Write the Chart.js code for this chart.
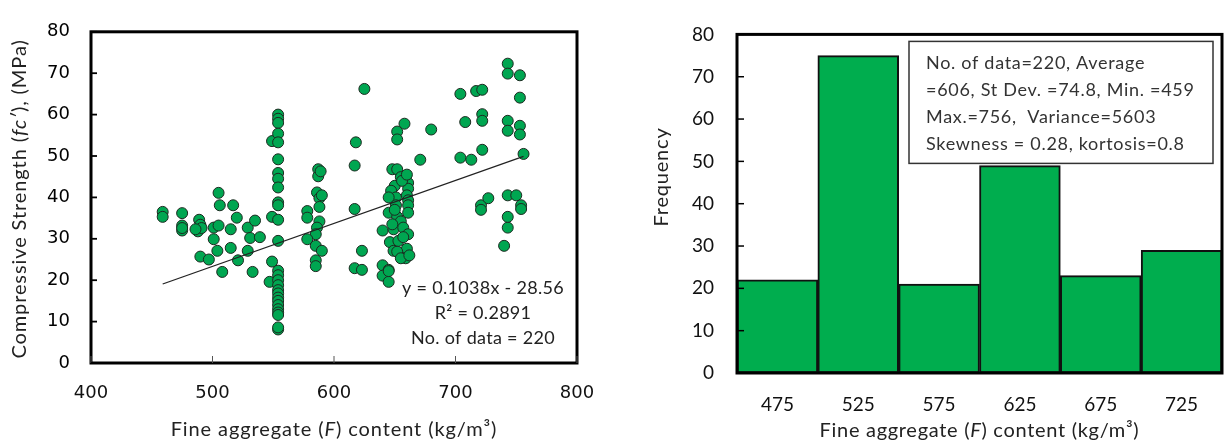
<!DOCTYPE html>
<html>
<head>
<meta charset="utf-8">
<script src="https://cdn.jsdelivr.net/npm/chart.js@4.4.1/dist/chart.umd.min.js"></script>
<style>
  html, body { margin: 0; padding: 0; background: #fff; }
  #wrap { position: relative; width: 1227px; height: 443px; overflow: hidden; }
  canvas { position: absolute; top: 0; }
  #scatterChart { left: 0; }
  #histChart { left: 620px; }
</style>
</head>
<body>
<div id="wrap">
  <canvas id="scatterChart" width="620" height="443"></canvas>
  <canvas id="histChart" width="607" height="443"></canvas>
</div>
<script>
// --- Fine aggregate content (kg/m3) vs compressive strength (MPa) ---
const fineContent = [
  459, 459, 475, 475, 475, 475, 489, 490, 488, 491, 486, 501, 505, 505, 506, 517,
  520, 515, 501, 504, 515, 529, 535, 531, 539, 529, 490, 497, 521, 508, 533,
  549, 554, 554, 549, 547, 549,
  554, 554, 554, 554, 554, 554, 554, 554, 554, 554, 554, 554, 554, 554, 554, 554,
  554, 554, 554, 554, 554, 554, 554, 554, 554,
  578, 578, 586, 588, 588, 590, 588, 586, 585, 578, 585, 590, 585, 585, 587, 587, 589,
  625, 618, 617, 617, 623, 617, 623,
  640, 645, 640, 645, 645, 658, 652, 652, 671, 680,
  648, 652, 655, 661, 650, 661, 647, 660, 651, 651, 661, 661, 645, 652, 661, 655,
  640, 649, 657, 661, 646, 660, 649, 652, 659, 655, 653, 657, 648, 650, 656, 660, 645, 662,
  704, 717, 722, 708, 722, 722, 704, 713, 722, 743, 743, 753, 753, 743, 743, 753,
  753, 756, 721, 727, 721, 743, 750, 754, 754, 740, 743, 743
];
const compStrength = [
  36.5, 35.3, 36.2, 33.2, 32.0, 32.6, 34.6, 33.4, 31.8, 32.6, 32.3, 32.7, 33.2, 41.1, 38.1, 38.1,
  35.1, 32.3, 29.9, 27.1, 27.8, 32.7, 34.4, 30.2, 30.4, 27.1, 25.7, 25.0, 24.8, 22.0, 22.0,
  35.3, 34.6, 29.5, 24.5, 19.6, 53.6,
  60.0, 59.0, 58.0, 55.4, 53.3, 49.2, 45.9, 44.5, 42.4, 38.8, 38.1, 22.3, 21.2, 20.0, 18.8, 17.6,
  16.8, 15.8, 15.0, 14.0, 13.0, 12.2, 11.6, 8.1, 8.6,
  36.7, 35.1, 41.2, 39.8, 37.7, 40.5, 34.2, 32.7, 31.1, 29.9, 28.3, 27.1, 24.8, 23.4, 46.8, 45.1, 46.3,
  66.2, 53.3, 47.7, 37.2, 27.1, 22.9, 22.5,
  23.6, 22.5, 21.1, 19.6, 22.2, 57.8, 55.9, 54.0, 49.1, 56.4,
  46.8, 46.8, 44.9, 43.5, 42.8, 42.1, 41.6, 40.5, 40.0, 38.1, 39.3, 38.1, 36.3, 35.3, 36.3, 34.2,
  32.0, 32.3, 32.7, 31.1, 29.2, 27.6, 27.1, 26.9, 25.3, 25.3, 29.5, 30.4, 33.5, 37.0, 44.0, 45.5, 40.0, 26.0,
  65.0, 65.7, 66.0, 58.2, 60.1, 58.5, 49.6, 49.1, 51.5, 72.3, 69.9, 69.5, 64.1, 58.5, 56.1, 57.3,
  55.2, 50.5, 38.1, 39.8, 37.0, 40.5, 40.5, 38.1, 37.2, 28.3, 32.7, 35.3
];

// linear trend y = a*x + b over the range of the data
const trendSlope = 0.1038;
const trendIntercept = -28.56;
const trendRange = [459, 756];
const dataCount = 220;
const rSquared = 0.2891;

// --- histogram of fine aggregate content ---
const binLabels = ['475', '525', '575', '625', '675', '725'];
const binCounts = [22, 75, 21, 49, 23, 29];
const statLines = [
  'No. of data=220, Average',
  '=606, St Dev. =74.8, Min. =459',
  'Max.=756,  Variance=5603',
  'Skewness = 0.28, kortosis=0.8'
];

const CAL = 'Lato, "Open Sans", sans-serif';
const TXT = '#222';

// writes a line made of several font runs, centred on (cx, cy)
function drawRuns(ctx, runs, cx, cy, angle, spacing) {
  ctx.save();
  ctx.translate(cx, cy);
  ctx.rotate(angle || 0);
  ctx.textBaseline = 'middle';
  ctx.textAlign = 'left';
  ctx.fillStyle = TXT;
  ctx.letterSpacing = (spacing || 0) + 'px';
  let total = 0;
  runs.forEach(r => { ctx.font = r.font; total += ctx.measureText(r.text).width; });
  let x = -total / 2;
  runs.forEach(r => {
    ctx.font = r.font;
    ctx.fillText(r.text, x, 0);
    x += ctx.measureText(r.text).width;
  });
  ctx.restore();
}

// thick box around the plot area
const boxFrame = {
  id: 'boxFrame',
  afterDraw(chart, args, opts) {
    const { ctx, chartArea: a } = chart;
    ctx.save();
    ctx.strokeStyle = '#000';
    ctx.lineWidth = opts.width;
    ctx.strokeRect(a.left, a.top, a.right - a.left, a.bottom - a.top);
    ctx.restore();
  }
};

// small tick marks pointing into the plot area
const innerTicks = {
  id: 'innerTicks',
  afterDraw(chart, args, opts) {
    const { ctx, chartArea: a } = chart;
    Object.keys(opts.axes).forEach(id => {
      const s = chart.scales[id];
      const { len, width, color } = opts.axes[id];
      ctx.save();
      ctx.strokeStyle = color;
      ctx.lineWidth = width;
      s.ticks.forEach(t => {
        const p = s.getPixelForValue(t.value);
        ctx.beginPath();
        if (s.isHorizontal()) { ctx.moveTo(p, a.bottom); ctx.lineTo(p, a.bottom - len); }
        else { ctx.moveTo(a.left, p); ctx.lineTo(a.left + len, p); }
        ctx.stroke();
      });
      ctx.restore();
    });
  }
};

// axis titles and notes
const notes = {
  id: 'notes',
  afterDraw(chart, args, opts) {
    opts.draw(chart.ctx, chart.chartArea, chart);
  }
};

const titleFont = '20px ' + CAL;
const fineTitle = [
  { text: 'Fine aggregate (', font: titleFont },
  { text: 'F', font: 'italic ' + titleFont },
  { text: ') content (kg/m³)', font: titleFont }
];

// --- Scatter ---
const points = fineContent.map((x, i) => ({ x, y: compStrength[i] }));
const trendPoints = trendRange.map(x => ({ x, y: trendSlope * x + trendIntercept }));

new Chart(document.getElementById('scatterChart'), {
  type: 'scatter',
  data: {
    datasets: [
      {
        type: 'line',
        data: trendPoints,
        borderColor: '#222',
        borderWidth: 1.3,
        pointRadius: 0,
        order: 0
      },
      {
        data: points,
        backgroundColor: '#00a651',
        borderColor: '#1c2a20',
        borderWidth: 1,
        pointRadius: 5.5,
        order: 1
      }
    ]
  },
  options: {
    responsive: false,
    animation: false,
    events: [],
    layout: { padding: { top: 21, right: 43, left: 0, bottom: 0 } },
    plugins: {
      legend: { display: false },
      tooltip: { enabled: false },
      boxFrame: { width: 3 },
      innerTicks: {
        axes: {
          x: { len: 7, width: 1, color: '#555' },
          y: { len: 6, width: 1.8, color: '#000' }
        }
      },
      notes: {
        draw(ctx, a) {
          drawRuns(ctx, fineTitle, (a.left + a.right) / 2, 430, 0, 0.9);
          drawRuns(ctx, [
            { text: 'Compressive Strength (', font: titleFont },
            { text: 'fc′', font: 'italic ' + titleFont },
            { text: '), (MPa)', font: titleFont }
          ], 20, 199, -Math.PI / 2, 0.9);
          const f = '18px ' + CAL;
          const cx = a.right - 94;
          drawRuns(ctx, [{ text: 'y = ' + trendSlope + 'x - ' + Math.abs(trendIntercept), font: f }], cx, a.bottom - 75, 0, 0.3);
          drawRuns(ctx, [{ text: 'R² = ' + rSquared, font: f }], cx, a.bottom - 50, 0, 0.3);
          drawRuns(ctx, [{ text: 'No. of data = ' + dataCount, font: f }], cx, a.bottom - 25, 0, 0.3);
        }
      }
    },
    scales: {
      x: {
        type: 'linear', min: 400, max: 800,
        ticks: { stepSize: 100, padding: 20, color: '#111', font: { family: 'DejaVu Sans', size: 18 } },
        grid: { display: false, drawTicks: false },
        border: { display: false },
        afterFit: s => { s.height = 80; }
      },
      y: {
        min: 0, max: 80,
        ticks: { stepSize: 10, padding: 21, color: '#000', font: { family: 'DejaVu Sans', size: 18 } },
        grid: { display: false, drawTicks: false },
        border: { display: false },
        afterFit: s => { s.width = 91; }
      }
    }
  },
  plugins: [boxFrame, innerTicks, notes]
});

// --- Histogram ---
new Chart(document.getElementById('histChart'), {
  type: 'bar',
  data: {
    labels: binLabels,
    datasets: [{
      data: binCounts,
      backgroundColor: '#00ad4e',
      borderColor: '#111',
      borderWidth: 2,
      borderSkipped: false,
      barPercentage: 1,
      categoryPercentage: 1
    }]
  },
  options: {
    responsive: false,
    animation: false,
    events: [],
    layout: { padding: { top: 21, right: 5, left: 0, bottom: 0 } },
    plugins: {
      legend: { display: false },
      tooltip: { enabled: false },
      boxFrame: { width: 3 },
      innerTicks: { axes: { y: { len: 7, width: 1.5, color: '#000' } } },
      notes: {
        draw(ctx, a) {
          drawRuns(ctx, fineTitle, (a.left + a.right) / 2, 431, 0, 0.7);
          drawRuns(ctx, [{ text: 'Frequency', font: titleFont }], 42, 177, -Math.PI / 2, 0.8);

          // summary statistics box
          const bx = a.left + 172, by = a.top + 7, bw = 304, bh = 122;
          ctx.save();
          ctx.fillStyle = '#fff';
          ctx.fillRect(bx, by, bw, bh);
          ctx.strokeStyle = '#333';
          ctx.lineWidth = 1.5;
          ctx.strokeRect(bx, by, bw, bh);
          ctx.fillStyle = '#333';
          ctx.font = '18px ' + CAL;
          ctx.letterSpacing = '0.7px';
          ctx.textBaseline = 'middle';
          ctx.textAlign = 'left';
          statLines.forEach((line, i) => ctx.fillText(line, bx + 17, by + 22 + i * 27));
          ctx.restore();
        }
      }
    },
    scales: {
      x: {
        ticks: { padding: 20, color: '#111', font: { family: 'Lato', size: 19 } },
        grid: { display: false, drawTicks: false },
        border: { display: false },
        afterFit: s => { s.height = 70; }
      },
      y: {
        min: 0, max: 80,
        ticks: { stepSize: 10, padding: 23, color: '#111', font: { family: 'Lato', size: 19 } },
        grid: { display: false, drawTicks: false },
        border: { display: false },
        afterFit: s => { s.width = 117; }
      }
    }
  },
  plugins: [boxFrame, innerTicks, notes]
});
</script>
</body>
</html>
